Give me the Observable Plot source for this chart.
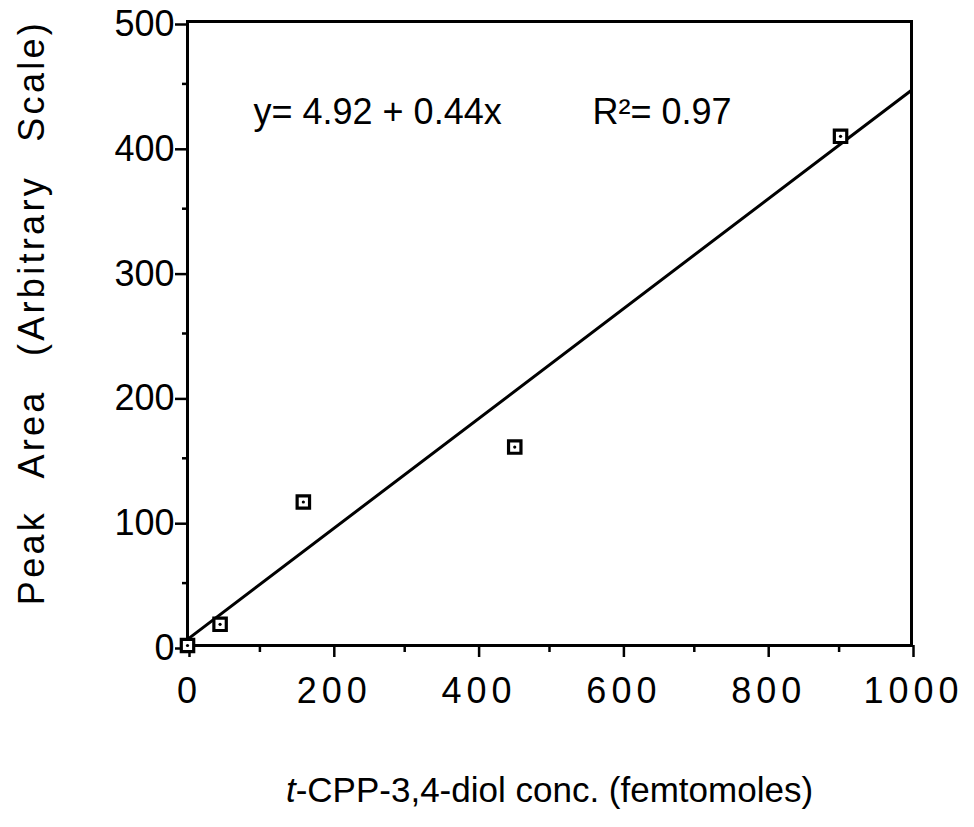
<!DOCTYPE html>
<html>
<head>
<meta charset="utf-8">
<script src="https://cdn.jsdelivr.net/npm/d3@7"></script>
<script src="https://cdn.jsdelivr.net/npm/@observablehq/plot@0.6"></script>
<style>
  html, body { margin: 0; padding: 0; background: #fff; }
  #chart { width: 974px; height: 827px; }
  g[aria-label="x-axis tick label"] text { letter-spacing: 5px; }
</style>
</head>
<body>
<div id="chart"></div>
<script>
// Calibration standards: amount injected vs. measured peak area
const concentration = [0, 45, 160, 452, 902];      // femtomoles
const peakArea = [0, 17, 115, 159, 408];           // arbitrary units

// Least-squares fit reported on the chart
const intercept = 4.92;
const slope = 0.44;
const rSquared = 0.97;

// Axis ticks
const xMajorTicks = [0, 200, 400, 600, 800, 1000];
const xMinorTicks = [100, 300, 500, 700, 900];
const yMajorTicks = [0, 100, 200, 300, 400, 500];
const yMinorTicks = [50, 150, 250, 350, 450];

const xTitleItalic = "t";
const xTitleRest = "-CPP-3,4-diol conc. (femtomoles)";
const yTitle = "Peak Area (Arbitrary Scale)";

const points = concentration.map((c, i) => ({conc: c, area: peakArea[i]}));
const fitEnds = [0, 1000].map(c => ({conc: c, area: intercept + slope * c}));
const equationText = `y= ${intercept.toFixed(2)} + ${slope.toFixed(2)}x`;
const r2Text = `R\u00B2= ${rSquared.toFixed(2)}`;

const chart = Plot.plot({
  width: 974,
  height: 827,
  marginLeft: 187,
  marginRight: 63,
  marginTop: 21,
  marginBottom: 182,
  style: {
    fontFamily: "'Liberation Sans', Arial, Helvetica, sans-serif",
    fontSize: "36px",
    color: "black",
    background: "white"
  },
  x: {domain: [0, 1000]},
  y: {domain: [0, 500]},
  marks: [
    // minor ticks
    Plot.axisX(xMinorTicks, {tickSize: 7, tickFormat: () => "", label: null, strokeWidth: 2.5}),
    Plot.axisY(yMinorTicks, {tickSize: 5, tickFormat: () => "", label: null, strokeWidth: 2.5}),
    // major ticks with labels
    Plot.axisX(xMajorTicks, {tickSize: 12, tickPadding: 20, tickFormat: d => String(d), label: null, strokeWidth: 2.5, dx: 2}),
    Plot.axisY(yMajorTicks, {tickSize: 12, tickPadding: 1, tickFormat: d => String(d), label: null, strokeWidth: 2.5, dy: 3}),
    Plot.frame({strokeWidth: 3}),
    // fitted line
    Plot.line(fitEnds, {x: "conc", y: "area", stroke: "black", strokeWidth: 3}),
    // data points: open squares with a centre dot
    Plot.dot(points, {x: "conc", y: "area", symbol: "square", r: 7, stroke: "black", strokeWidth: 3.2, fill: "white"}),
    Plot.dot(points, {x: "conc", y: "area", r: 1.6, fill: "black"}),
    // fit annotation
    Plot.text([equationText], {frameAnchor: "top-left", text: d => d, textAnchor: "start", dx: 66, dy: 77, fontSize: 36}),
    Plot.text([r2Text], {frameAnchor: "top-left", text: d => d, textAnchor: "start", dx: 405, dy: 77, fontSize: 36}),
    // axis titles
    Plot.text([xTitleRest], {frameAnchor: "bottom", text: d => d, textAnchor: "middle", dy: 156, fontSize: 35}),
    Plot.text([yTitle], {frameAnchor: "left", text: d => d, textAnchor: "middle", rotate: -90, dx: -155, dy: -21, fontSize: 36})
  ]
});

const svg = d3.select(chart);

// X title: italic "t" prefix followed by the rest in upright type
const xt = svg.selectAll("text").filter(function() { return this.textContent === xTitleRest; });
xt.text(null);
xt.append("tspan").attr("font-style", "italic").text(xTitleItalic);
xt.append("tspan").text(xTitleRest);

// Y title: loosely spaced letters and words
svg.selectAll("text")
  .filter(function() { return this.textContent === yTitle; })
  .style("letter-spacing", "3.3px")
  .style("word-spacing", "20px");

document.getElementById("chart").append(chart);
</script>
</body>
</html>
